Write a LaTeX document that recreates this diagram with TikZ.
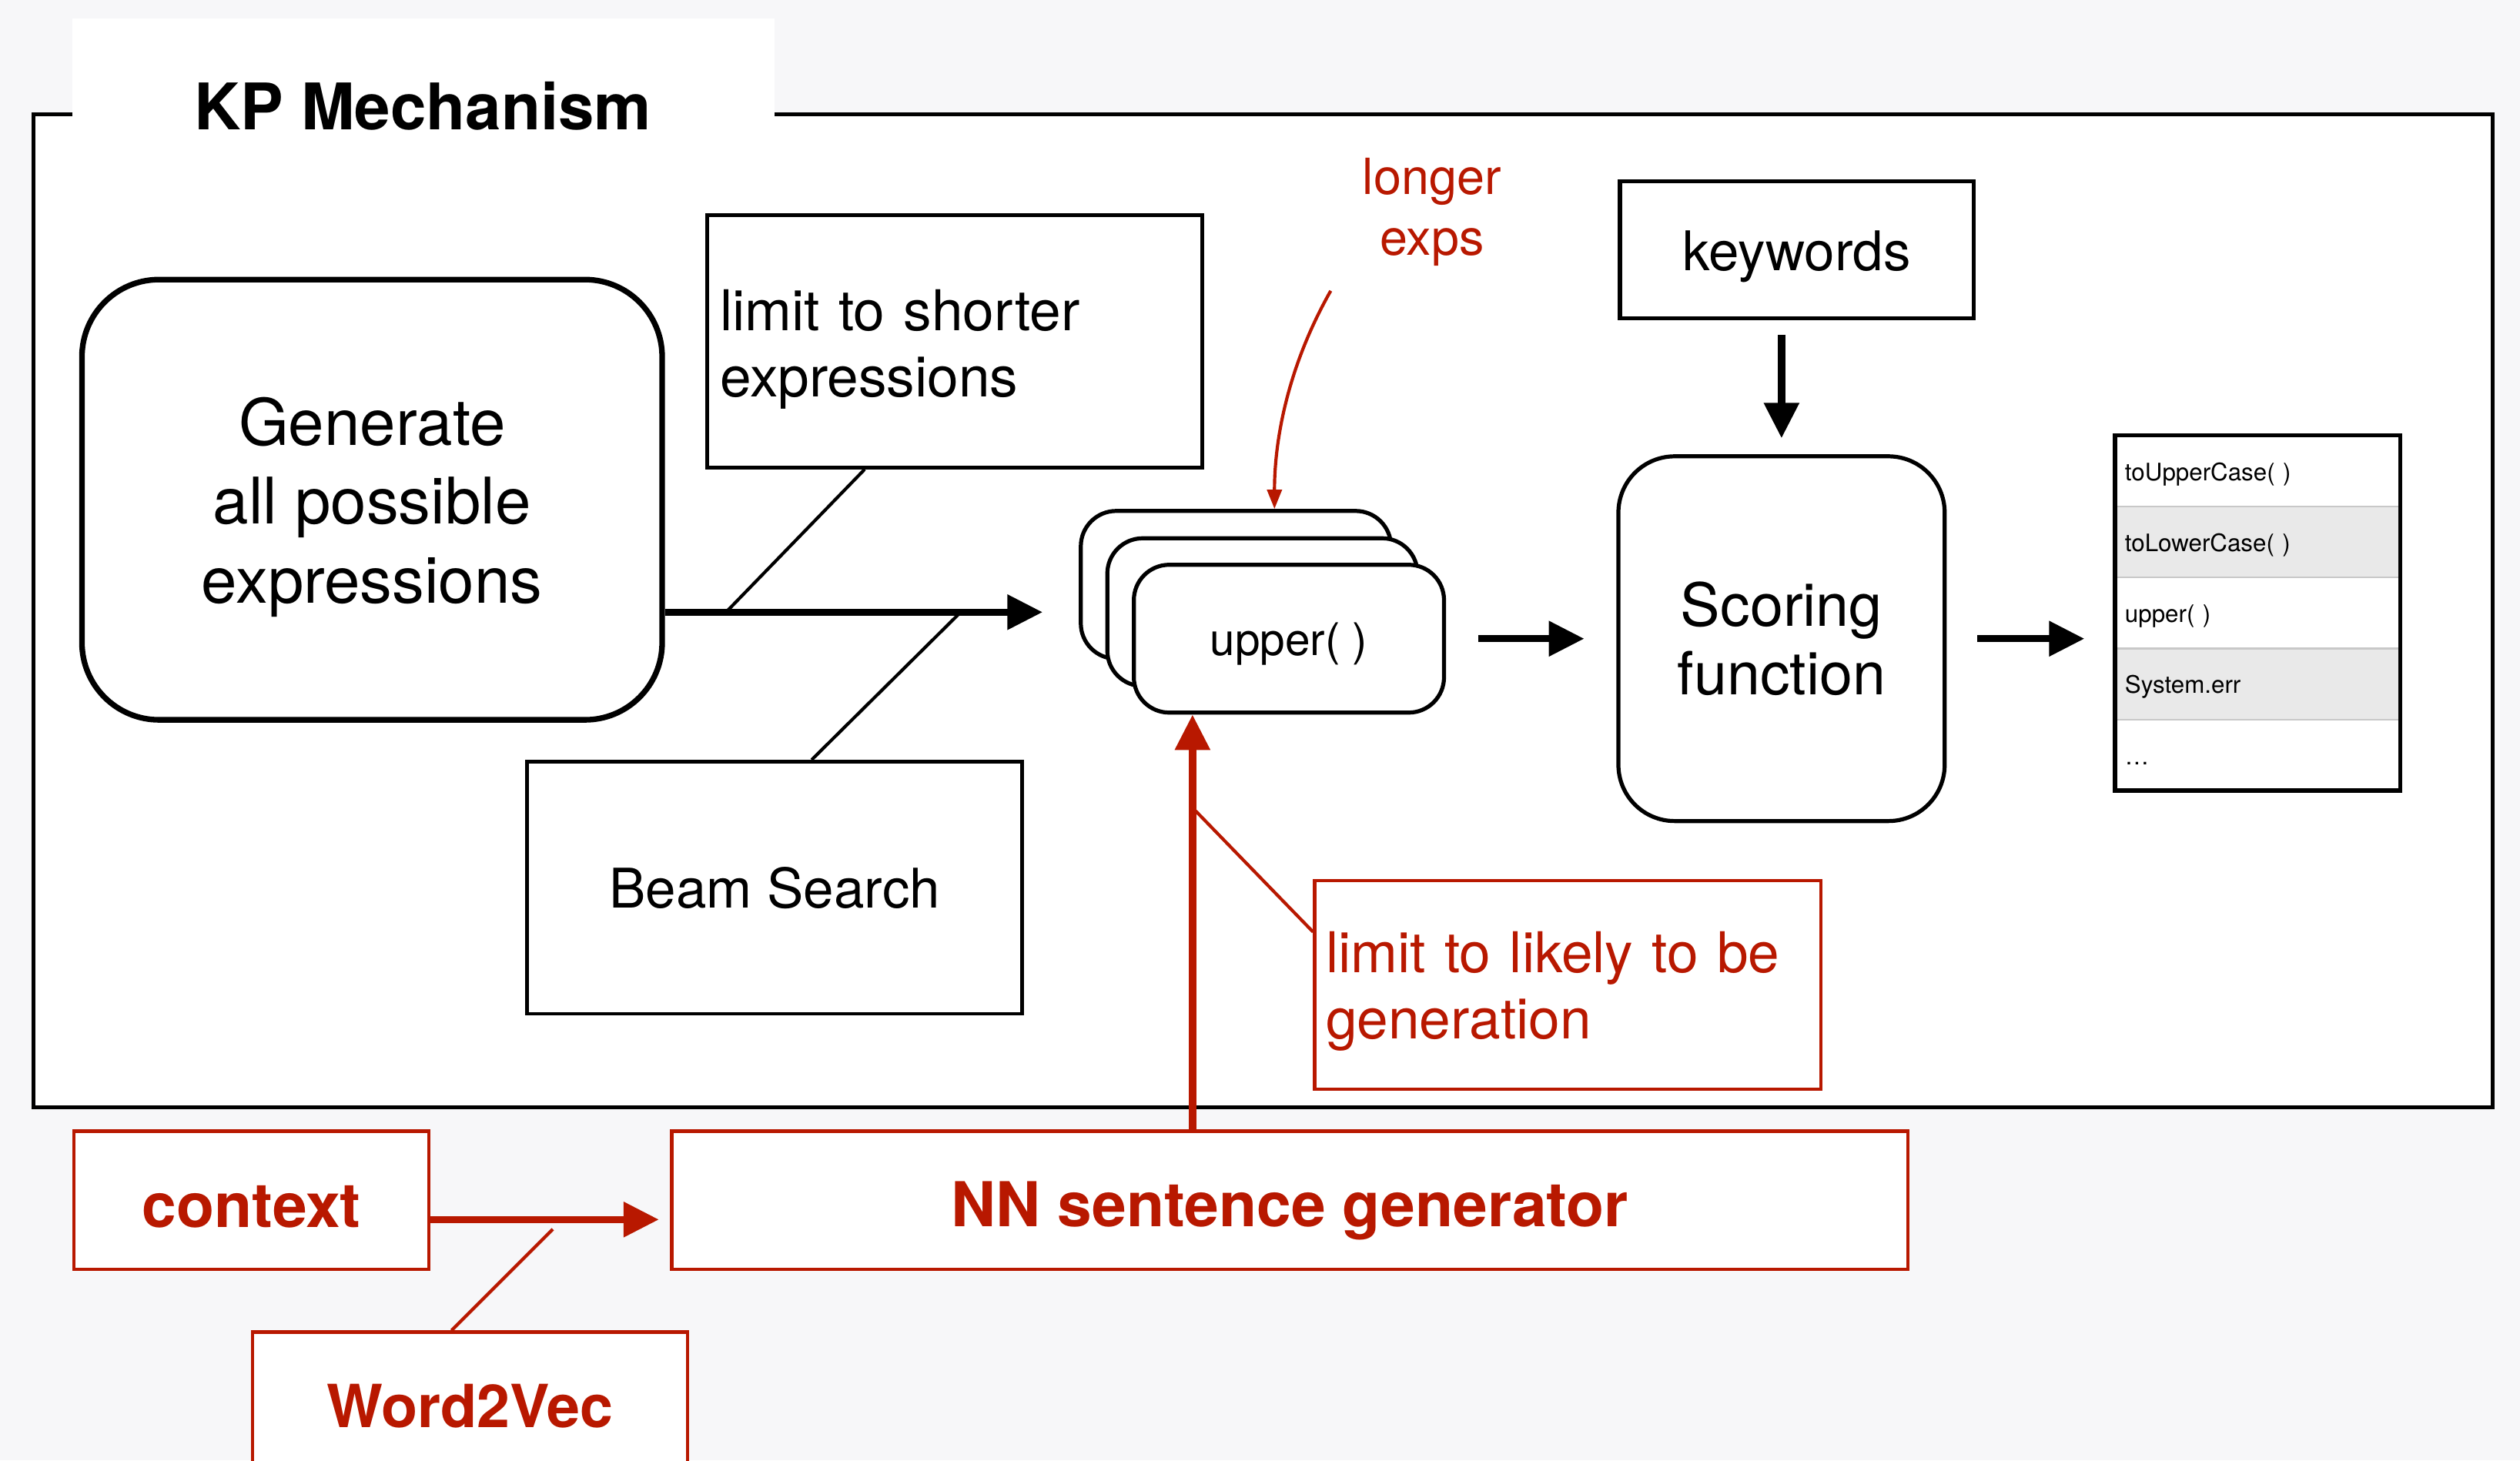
\documentclass[tikz,border=0pt]{standalone}
\usepackage{fontspec}
\setmainfont{TeX Gyre Heros}
\usetikzlibrary{arrows.meta,calc}
\definecolor{kred}{RGB}{184,24,0}
\definecolor{bgc}{RGB}{247,247,249}
\definecolor{rowg}{RGB}{233,233,233}
\definecolor{sepg}{RGB}{200,200,200}
\newcommand{\fsz}[2]{\fontsize{#1}{#2}\selectfont}
\tikzset{
  box/.style={draw=black, line width=2.2pt, fill=white, inner sep=0pt},
  redbox/.style={draw=kred, line width=2pt, fill=white, inner sep=0pt, text=kred},
  card/.style={draw=black, line width=2.5pt, fill=white, rounded corners=22pt,
    minimum width=193pt, minimum height=92pt, inner sep=0pt},
  listrow/.style={minimum width=177pt, minimum height=43.8pt, inner xsep=6pt, inner ysep=0pt,
    text width=165pt, align=left, font=\fsz{15}{18}, anchor=north west,
    text height=14pt, text depth=2.2pt},
  sdown/.style={execute at begin node={\rule{0pt}{#1}}},
  bigarrow/.style={line width=4.5pt, -{Triangle[length=22pt,width=21pt]}},
  redarrow/.style={kred, line width=4.5pt, -{Triangle[length=22pt,width=21pt]}},
  thinline/.style={line width=2pt},
  thinred/.style={kred, line width=2pt}
}
\begin{document}
\begin{tikzpicture}[x=1pt,y=-1pt]
\useasboundingbox (0,0) rectangle (1568,909);
\clip (0,0) rectangle (1568,909);
\fill[bgc] (0,0) rectangle (1568,909);

% main frame
\node[draw=black, line width=2.5pt, fill=white, minimum width=1530pt, minimum height=618pt, inner sep=0pt] (frame) at (786,380) {};
\node[fill=white, minimum width=437pt, minimum height=63pt, inner sep=0pt] (tab) at (263.5,43) {};
\node[font=\bfseries\fsz{40}{48}] (title) at (263,66) {KP Mechanism};

% generate
\node[draw=black, line width=3.5pt, fill=white, rounded corners=48pt, minimum width=361pt, minimum height=274pt,
  align=center, font=\fsz{40}{49}] (gen) at (231.5,311) {\rule{0pt}{39pt}Generate\\all possible\\expressions};

% limit to shorter
\node[box, minimum width=308pt, minimum height=157pt, text width=292pt, inner xsep=8pt, align=left,
  font=\fsz{35}{41}, sdown=35.5pt] (lim) at (594,212.5) {limit to shorter\\expressions};

% beam search
\node[box, minimum width=308pt, minimum height=157pt, font=\fsz{34}{41}] (beam) at (482,552.5) {Beam Search};

% cards
\node[card] (back) at (769,364) {};
\node[card] (mid) at (785.5,381) {};
\node[card, font=\fsz{28}{34}, sdown=27pt] (front) at (802,397.5) {upper( )};

% scoring
\node[draw=black, line width=2.5pt, fill=white, rounded corners=35pt, minimum width=203pt, minimum height=227pt,
  align=center, font=\fsz{37}{43}] (score) at (1108.5,397.5) {Scoring\\function};

% keywords
\node[box, line width=2.5pt, minimum width=220pt, minimum height=85pt, font=\fsz{34}{41}, sdown=33pt] (kw) at (1118,155.5) {keywords};

% list
\node[listrow, fill=white] (r1) at (1316,271) {toUpperCase( )};
\node[listrow, fill=rowg] (r2) at (r1.south west) {toLowerCase( )};
\node[listrow, fill=white] (r3) at (r2.south west) {upper( )};
\node[listrow, fill=rowg] (r4) at (r3.south west) {System.err};
\node[listrow, fill=white] (r5) at (r4.south west) {\ldots};
\foreach \r in {r1,r2,r3,r4}{\draw[sepg, line width=1pt] (\r.south west) -- (\r.south east);}
\draw[line width=2.5pt] (r1.north west) rectangle (r5.south east);

% longer exps
\node[text=kred, align=center, font=\fsz{31}{38}] (lng) at (891,132) {longer\\exps};
\coordinate (lngs) at (828,181);
\draw[thinred, -{Triangle[length=12pt,width=9pt]}] (lngs) .. controls (803,225) and (793,270) .. ([xshift=24pt]back.north);

% limit to likely
\node[redbox, minimum width=315pt, minimum height=130pt, text width=301pt, inner xsep=7pt, align=left,
  font=\fsz{35}{41}, sdown=33.5pt] (lik) at (975.5,613) {limit to likely to be\\generation};

% bottom red boxes
\node[redbox, minimum width=769pt, minimum height=86pt, font=\bfseries\fsz{38.5}{46}, sdown=41pt] (nn) at (802.5,747) {NN sentence generator};
\node[redbox, minimum width=221pt, minimum height=86pt, font=\bfseries\fsz{38.5}{46}, sdown=34pt] (ctx) at (156.5,747) {context};
\node[redbox, minimum width=271pt, minimum height=92pt, font=\bfseries\fsz{37}{44}] (w2v) at (292.5,875) {Word2Vec};

% black connectors
\draw[bigarrow] ([yshift=-70pt]gen.east) -- ([xshift=-39pt]mid.west);
\draw[thinline] ([xshift=-56pt]lim.south) -- ($(gen.east)+(38,70)$);
\draw[thinline] ($(gen.east)+(184,70)$) -- ([xshift=23pt]beam.north);
\draw[bigarrow] ([xshift=20pt]front.east) -- ([xshift=-20pt]score.west);
\draw[bigarrow] ($(kw.south -| score.north)+(0,9)$) -- ($(score.north)+(0,-10)$);
\draw[bigarrow] ([xshift=19pt]score.east) -- ($(score.east -| r1.west)+(-19,0)$);

% red connectors
\path ([xshift=-60pt]front.south) coordinate (uptop);
\draw[redarrow] (uptop |- nn.north) -- (uptop);
\draw[thinred] ($(uptop)+(2,60)$) -- ([yshift=33pt]lik.west);
\draw[redarrow] ([yshift=-12pt]ctx.east) -- ([xshift=-7pt,yshift=-12pt]nn.west);
\draw[thinred] ($(ctx.east)+(76,18)$) -- ([xshift=-11.5pt]w2v.north);
\end{tikzpicture}
\end{document}
